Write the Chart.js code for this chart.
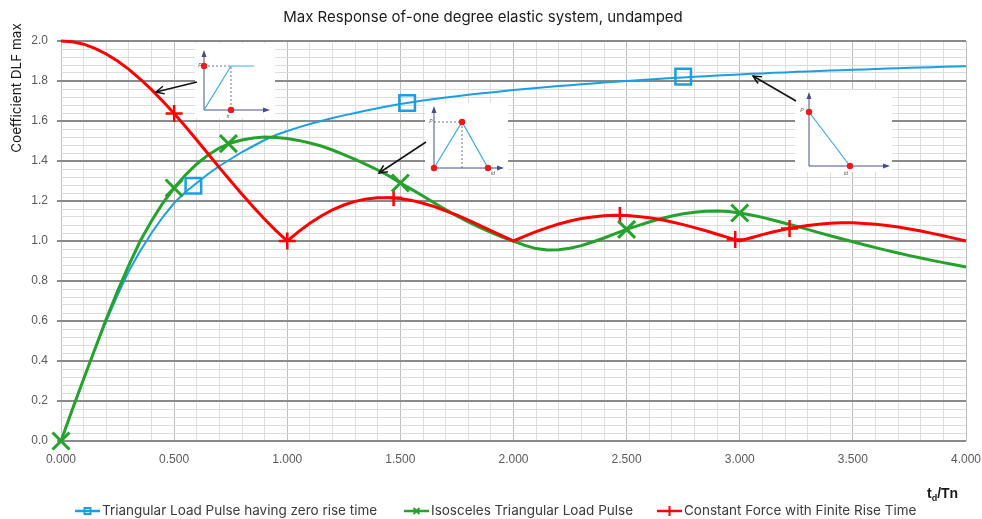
<!DOCTYPE html>
<html>
<head>
<meta charset="utf-8">
<title>Max Response of-one degree elastic system, undamped</title>
<script src="https://cdn.jsdelivr.net/npm/chart.js@4.4.1/dist/chart.umd.min.js"></script>
<style>
  html, body { margin: 0; padding: 0; background: #fff; }
</style>
</head>
<body>
<canvas id="dlfChart" width="982" height="519"></canvas>
<script>
// td/Tn values (x axis)
const tdTn = [
  0.00, 0.05, 0.10, 0.15, 0.20, 0.25, 0.30, 0.35, 0.40, 0.45,
  0.50, 0.55, 0.60, 0.65, 0.70, 0.75, 0.80, 0.85, 0.90, 0.95,
  1.00, 1.05, 1.10, 1.15, 1.20, 1.25, 1.30, 1.35, 1.40, 1.45,
  1.50, 1.55, 1.60, 1.65, 1.70, 1.75, 1.80, 1.85, 1.90, 1.95,
  2.00, 2.05, 2.10, 2.15, 2.20, 2.25, 2.30, 2.35, 2.40, 2.45,
  2.50, 2.55, 2.60, 2.65, 2.70, 2.75, 2.80, 2.85, 2.90, 2.95,
  3.00, 3.05, 3.10, 3.15, 3.20, 3.25, 3.30, 3.35, 3.40, 3.45,
  3.50, 3.55, 3.60, 3.65, 3.70, 3.75, 3.80, 3.85, 3.90, 3.95,
  4.00
];

// Triangular load pulse, zero rise time
const triangularDLF = [
  0.000, 0.157, 0.310, 0.460, 0.600, 0.730, 0.850, 0.950, 1.040, 1.120,
  1.190, 1.245, 1.290, 1.335, 1.375, 1.410, 1.445, 1.475, 1.505, 1.530,
  1.550, 1.568, 1.585, 1.600, 1.615, 1.628, 1.640, 1.652, 1.664, 1.675,
  1.685, 1.694, 1.702, 1.710, 1.717, 1.724, 1.731, 1.737, 1.743, 1.749,
  1.755, 1.760, 1.765, 1.770, 1.775, 1.779, 1.784, 1.788, 1.792, 1.796,
  1.800, 1.804, 1.808, 1.811, 1.815, 1.818, 1.821, 1.824, 1.827, 1.830,
  1.833, 1.836, 1.838, 1.841, 1.843, 1.846, 1.848, 1.850, 1.852, 1.854,
  1.856, 1.858, 1.860, 1.862, 1.864, 1.866, 1.867, 1.869, 1.871, 1.872,
  1.874
];

// Isosceles triangular load pulse
const isoscelesDLF = [
  0.000, 0.157, 0.310, 0.460, 0.610, 0.750, 0.880, 1.000, 1.100, 1.190,
  1.265, 1.330, 1.385, 1.430, 1.465, 1.490, 1.505, 1.515, 1.520, 1.518,
  1.512, 1.503, 1.490, 1.475, 1.455, 1.432, 1.408, 1.382, 1.355, 1.325,
  1.290, 1.258, 1.225, 1.190, 1.157, 1.125, 1.095, 1.068, 1.043, 1.020,
  1.000, 0.978, 0.962, 0.955, 0.956, 0.964, 0.977, 0.995, 1.015, 1.037,
  1.058, 1.077, 1.095, 1.111, 1.125, 1.136, 1.144, 1.149, 1.150, 1.147,
  1.140, 1.130, 1.118, 1.104, 1.089, 1.074, 1.058, 1.042, 1.026, 1.011,
  0.996, 0.981, 0.967, 0.953, 0.940, 0.927, 0.915, 0.903, 0.892, 0.881,
  0.870
];

// Constant force with finite rise time
const riseTimeDLF = [
  2.000, 1.996, 1.984, 1.963, 1.935, 1.900, 1.858, 1.810, 1.757, 1.699,
  1.637, 1.572, 1.505, 1.436, 1.367, 1.300, 1.234, 1.170, 1.109, 1.052,
  1.000, 1.047, 1.089, 1.125, 1.156, 1.180, 1.198, 1.210, 1.216, 1.216,
  1.212, 1.203, 1.189, 1.172, 1.151, 1.129, 1.104, 1.078, 1.052, 1.026,
  1.000, 1.024, 1.047, 1.067, 1.085, 1.100, 1.112, 1.120, 1.126, 1.129,
  1.127, 1.123, 1.116, 1.107, 1.095, 1.082, 1.067, 1.051, 1.034, 1.017,
  1.000, 1.016, 1.032, 1.046, 1.058, 1.069, 1.078, 1.084, 1.089, 1.091,
  1.091, 1.088, 1.084, 1.078, 1.070, 1.060, 1.050, 1.038, 1.026, 1.013,
  1.000
];

// the few points that carry a marker in the original
const triangularMarkX = [0.585, 1.53, 2.75];
const triangularMarkY = [1.276, 1.690, 1.822];
const isoscelesMarkX = [0.00, 0.50, 0.74, 1.50, 2.50, 3.00];
const isoscelesMarkY = [0.000, 1.265, 1.487, 1.290, 1.058, 1.140];
const riseTimeMarkX = [0.50, 1.00, 1.47, 2.47, 2.98, 3.22];
const riseTimeMarkY = [1.637, 1.000, 1.216, 1.128, 1.007, 1.063];

const seriesNames = [
  "Triangular Load Pulse having zero rise time",
  "Isosceles Triangular Load Pulse",
  "Constant Force with Finite Rise Time",
];

const BLUE = "#1a9fe3";
const GREEN = "#25a22b";
const RED = "#ff0000";
const FONT = "'Liberation Sans', Arial, sans-serif";
const TEXT_FONT = "Inter, 'Liberation Sans', sans-serif";

const toPoints = (xs, ys) => xs.map((x, i) => ({ x: x, y: ys[i] }));

/* ===== legend, axis titles and the small load diagrams ===== */
function arrowHead(ctx, x1, y1, x2, y2, size) {
  const a = Math.atan2(y2 - y1, x2 - x1);
  ctx.beginPath();
  ctx.moveTo(x2 - size * Math.cos(a - 0.45), y2 - size * Math.sin(a - 0.45));
  ctx.lineTo(x2, y2);
  ctx.lineTo(x2 - size * Math.cos(a + 0.45), y2 - size * Math.sin(a + 0.45));
  ctx.stroke();
}

function pointer(ctx, x1, y1, x2, y2) {
  ctx.save();
  ctx.strokeStyle = "#111";
  ctx.lineWidth = 1.5;
  ctx.beginPath();
  ctx.moveTo(x1, y1);
  ctx.lineTo(x2, y2);
  ctx.stroke();
  arrowHead(ctx, x1, y1, x2, y2, 9);
  ctx.restore();
}

function dot(ctx, x, y) {
  ctx.fillStyle = "#f01818";
  ctx.beginPath();
  ctx.arc(x, y, 3.2, 0, Math.PI * 2);
  ctx.fill();
}

function seg(ctx, pts, color, width, dash) {
  ctx.save();
  ctx.strokeStyle = color;
  ctx.lineWidth = width;
  ctx.setLineDash(dash || []);
  ctx.beginPath();
  pts.forEach((p, i) => (i ? ctx.lineTo(p[0], p[1]) : ctx.moveTo(p[0], p[1])));
  ctx.stroke();
  ctx.restore();
}

function axes(ctx, ox, oy, top, right) {
  const c = "#44508a";
  seg(ctx, [[ox, oy], [ox, top]], c, 1);
  seg(ctx, [[ox, oy], [right, oy]], c, 1);
  ctx.save();
  ctx.fillStyle = c;
  ctx.beginPath();
  ctx.moveTo(ox, top - 2); ctx.lineTo(ox - 2.5, top + 5); ctx.lineTo(ox + 2.5, top + 5);
  ctx.fill();
  ctx.beginPath();
  ctx.moveTo(right + 2, oy); ctx.lineTo(right - 5, oy - 2.5); ctx.lineTo(right - 5, oy + 2.5);
  ctx.fill();
  ctx.restore();
}

function tinyText(ctx, t, x, y) {
  ctx.save();
  ctx.fillStyle = "#555";
  ctx.font = "italic 5px " + FONT;
  ctx.textAlign = "center";
  ctx.textBaseline = "middle";
  ctx.fillText(t, x, y);
  ctx.restore();
}

function legendMarker(ctx, kind, x, y, color) {
  ctx.save();
  ctx.strokeStyle = color;
  ctx.lineWidth = 2;
  ctx.beginPath();
  if (kind === "rect") {
    ctx.rect(x - 3, y - 3, 6, 6);
  } else if (kind === "crossRot") {
    ctx.moveTo(x - 3, y - 3); ctx.lineTo(x + 3, y + 3);
    ctx.moveTo(x + 3, y - 3); ctx.lineTo(x - 3, y + 3);
  } else {
    ctx.moveTo(x, y - 5); ctx.lineTo(x, y + 5);
  }
  ctx.stroke();
  ctx.restore();
}

const decorPlugin = {
  id: "decor",
  afterDatasetsDraw(chart) {
    const ctx = chart.ctx;
    ctx.save();

    // inset 1: load with finite rise time
    ctx.fillStyle = "#fff";
    ctx.fillRect(195, 43, 80, 75);
    axes(ctx, 204, 110, 52, 268);
    seg(ctx, [[204, 66], [231, 66], [231, 110]], "#44508a", 0.8, [2, 2]);
    seg(ctx, [[204, 110], [231, 66], [254, 66]], "#3aaae6", 1.2);
    dot(ctx, 204, 66);
    dot(ctx, 231, 110);
    tinyText(ctx, "P", 200, 66);
    tinyText(ctx, "tr", 228, 117);
    pointer(ctx, 197, 82, 156, 92);

    // inset 2: isosceles triangle
    ctx.fillStyle = "#fff";
    ctx.fillRect(425, 103, 83, 74);
    axes(ctx, 434, 168, 108, 502);
    seg(ctx, [[434, 122], [462, 122], [462, 168]], "#44508a", 0.8, [2, 2]);
    seg(ctx, [[434, 168], [462, 122], [488, 168]], "#3aaae6", 1.2);
    dot(ctx, 434, 168);
    dot(ctx, 462, 122);
    dot(ctx, 488, 168);
    tinyText(ctx, "P", 431, 122);
    tinyText(ctx, "td", 493, 174);
    pointer(ctx, 426, 142, 379, 173);

    // inset 3: triangle with zero rise time
    ctx.fillStyle = "#fff";
    ctx.fillRect(795, 90, 97, 82);
    axes(ctx, 809, 166, 94, 888);
    seg(ctx, [[809, 112], [850, 166]], "#3aaae6", 1.2);
    dot(ctx, 809, 112);
    dot(ctx, 850, 166);
    tinyText(ctx, "P", 802, 111);
    tinyText(ctx, "td", 846, 174);
    pointer(ctx, 796, 101, 753, 76);

    // y axis title
    ctx.save();
    ctx.translate(17, 88);
    ctx.rotate(-Math.PI / 2);
    ctx.fillStyle = "#1a1a1a";
    ctx.font = "13.5px " + TEXT_FONT;
    ctx.textAlign = "center";
    ctx.textBaseline = "middle";
    ctx.fillText("Coefficient DLF max", 0, 0);
    ctx.restore();

    // x axis title  td/Tn
    ctx.fillStyle = "#1a1a1a";
    ctx.textBaseline = "alphabetic";
    ctx.textAlign = "left";
    ctx.font = "bold 14px " + FONT;
    ctx.fillText("t", 927, 498);
    let tx = 927 + ctx.measureText("t").width;
    ctx.font = "bold 9px " + FONT;
    ctx.fillText("d", tx, 501);
    tx += ctx.measureText("d").width;
    ctx.font = "bold 14px " + FONT;
    ctx.fillText("/Tn", tx, 498);

    // legend
    const items = [
      { x: 75, color: BLUE, kind: "rect" },
      { x: 404, color: GREEN, kind: "crossRot" },
      { x: 657, color: RED, kind: "cross" },
    ];
    const ly = 511;
    items.forEach((it, i) => {
      seg(ctx, [[it.x, ly], [it.x + 25, ly]], it.color, 2.5);
      legendMarker(ctx, it.kind, it.x + 12.5, ly, it.color);
      ctx.fillStyle = "#3a3a3a";
      ctx.font = "13.5px " + TEXT_FONT;
      ctx.textBaseline = "middle";
      ctx.fillText(seriesNames[i], it.x + 27, ly);
    });

    ctx.restore();
  },
};

/* ===== chart ===== */
const majorY = (v) => Math.round(v * 100) % 20 === 0;
const majorX = (v) => Math.round(v * 10) % 5 === 0;

new Chart(document.getElementById("dlfChart"), {
  type: "scatter",
  data: {
    datasets: [
      {
        label: "marks-triangular",
        data: toPoints(triangularMarkX, triangularMarkY),
        pointStyle: "rect",
        pointRadius: 11,
        pointBorderWidth: 2.5,
        pointBorderColor: BLUE,
        pointBackgroundColor: "rgba(0,0,0,0)",
        showLine: false,
        clip: false,
        order: 0,
      },
      {
        label: "marks-isosceles",
        data: toPoints(isoscelesMarkX, isoscelesMarkY),
        pointStyle: "crossRot",
        pointRadius: 12,
        pointBorderWidth: 3,
        pointBorderColor: GREEN,
        showLine: false,
        clip: false,
        order: 0,
      },
      {
        label: "marks-risetime",
        data: toPoints(riseTimeMarkX, riseTimeMarkY),
        pointStyle: "cross",
        pointRadius: 8.5,
        pointBorderWidth: 2.5,
        pointBorderColor: RED,
        showLine: false,
        clip: false,
        order: 0,
      },
      {
        label: seriesNames[2],
        data: toPoints(tdTn, riseTimeDLF),
        borderColor: RED,
        borderWidth: 3,
        pointRadius: 0,
        showLine: true,
        clip: false,
        order: 1,
      },
      {
        label: seriesNames[1],
        data: toPoints(tdTn, isoscelesDLF),
        borderColor: GREEN,
        borderWidth: 3,
        pointRadius: 0,
        showLine: true,
        clip: false,
        order: 2,
      },
      {
        label: seriesNames[0],
        data: toPoints(tdTn, triangularDLF),
        borderColor: BLUE,
        borderWidth: 2,
        pointRadius: 0,
        showLine: true,
        clip: false,
        order: 3,
      },
    ],
  },
  options: {
    responsive: false,
    animation: false,
    layout: { padding: { left: 0, right: 16, top: 0, bottom: 0 } },
    plugins: {
      legend: { display: false },
      tooltip: { enabled: false },
      title: {
        display: true,
        text: "Max Response of-one degree elastic system, undamped",
        color: "#1a1a1a",
        font: { family: TEXT_FONT, size: 15, weight: "normal" },
        padding: { top: 8, bottom: 15 },
      },
    },
    scales: {
      x: {
        type: "linear",
        min: 0,
        max: 4,
        afterFit: (s) => {
          s.height = 78;
          s.paddingLeft = 0;
          s.paddingRight = 0;
        },
        border: { display: false },
        grid: {
          drawTicks: false,
          color: (c) => (majorX(c.tick.value) ? "#bdbdbd" : "#dedede"),
          lineWidth: 1,
        },
        ticks: {
          stepSize: 0.1,
          autoSkip: false,
          maxRotation: 0,
          padding: 11,
          color: "#595959",
          font: { family: FONT, size: 12 },
          callback: (v) => (majorX(v) ? Number(v).toFixed(3) : ""),
        },
      },
      y: {
        min: 0,
        max: 2,
        afterFit: (s) => { s.width = 61; },
        border: { display: false },
        grid: {
          tickLength: 4,
          color: (c) => (majorY(c.tick.value) ? "#8a8a8a" : "#dcdcdc"),
          tickColor: (c) => (majorY(c.tick.value) ? "#8a8a8a" : "rgba(0,0,0,0)"),
          lineWidth: (c) => (majorY(c.tick.value) ? 2 : 1),
        },
        ticks: {
          stepSize: 0.04,
          autoSkip: false,
          padding: 9,
          color: "#595959",
          font: { family: FONT, size: 12 },
          callback: (v) => (majorY(v) ? Number(v).toFixed(1) : ""),
        },
      },
    },
  },
  plugins: [decorPlugin],
});
</script>
</body>
</html>
